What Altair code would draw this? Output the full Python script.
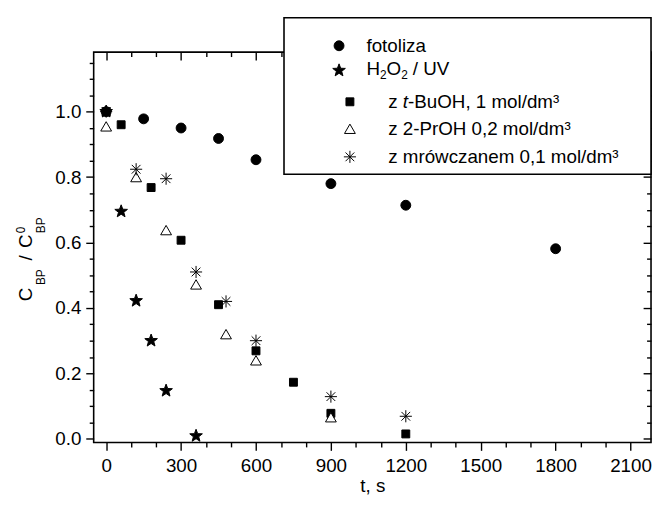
import math
import altair as alt
import pandas as pd

# ---------------- data ----------------
t_fotoliza = [0, 150, 300, 450, 600, 900, 1200, 1800]
c_fotoliza = [1.0, 0.978, 0.950, 0.918, 0.853, 0.780, 0.714, 0.581]

t_h2o2 = [0, 60, 120, 180, 240, 360]
c_h2o2 = [1.0, 0.695, 0.422, 0.30, 0.147, 0.009]

t_tbuoh = [0, 60, 180, 300, 450, 600, 750, 900, 1200]
c_tbuoh = [1.0, 0.96, 0.768, 0.607, 0.41, 0.269, 0.173, 0.078, 0.015]

t_proh = [0, 120, 240, 360, 480, 600, 900]
c_proh = [0.955, 0.80, 0.638, 0.472, 0.32, 0.24, 0.066]

t_mrow = [0, 120, 240, 360, 480, 600, 900, 1200]
c_mrow = [1.0, 0.824, 0.795, 0.51, 0.42, 0.30, 0.129, 0.069]

series = ["fotoliza", "H2O2 / UV", "z t-BuOH", "z 2-PrOH", "z mrowczan"]

x_major = [0, 300, 600, 900, 1200, 1500, 1800, 2100]
x_minor = [100, 200, 400, 500, 700, 800, 1000, 1100, 1300, 1400, 1600, 1700, 1900, 2000]
y_major = [0.0, 0.2, 0.4, 0.6, 0.8, 1.0]
y_minor = [0.05, 0.1, 0.15, 0.25, 0.3, 0.35, 0.45, 0.5, 0.55, 0.65, 0.7, 0.75,
           0.85, 0.9, 0.95, 1.05, 1.1, 1.15]

rows = []
for name, ts, cs in zip(series,
                        [t_fotoliza, t_h2o2, t_tbuoh, t_proh, t_mrow],
                        [c_fotoliza, c_h2o2, c_tbuoh, c_proh, c_mrow]):
    for t, c in zip(ts, cs):
        rows.append({"series": name, "t": t, "c": c})
df = pd.DataFrame(rows)
one = pd.DataFrame({"a": [0]})

# ---------------- styling ----------------
W, H = 564, 395
XDOM = [-50, 2182]
YDOM = [-0.011, 1.182]
FONT = "Liberation Sans"
FS = 19


def star_path(r_out=1.0, r_in=0.42):
    pts = []
    for k in range(10):
        ang = math.radians(-90 + 36 * k)
        r = r_out if k % 2 == 0 else r_in
        pts.append((r * math.cos(ang), r * math.sin(ang)))
    return "M" + "L".join(f"{x:.3f},{y:.3f}" for x, y in pts) + "Z"


STAR = star_path()
ASTER = "M0,-1L0,1M-1,0L1,0M-0.72,-0.72L0.72,0.72M-0.72,0.72L0.72,-0.72"

shapes = ["circle", STAR, "square", "triangle-up", ASTER]
fills = ["black", "black", "black", "white", "black"]
sizes = [100, 180, 64, 120, 150]

xs = alt.Scale(domain=XDOM, nice=False, zero=False)
ys = alt.Scale(domain=YDOM, nice=False, zero=False)

common_axis = dict(grid=False, domain=False, tickColor="black", tickWidth=1.4,
                   labelFont=FONT, labelFontSize=FS, labelColor="black",
                   titleFont=FONT, titleFontSize=FS, titleColor="black",
                   titleFontWeight="normal", labelFlush=False, labelOverlap=False)


def axis_layer(xaxis, yaxis):
    return alt.Chart(df).mark_point(opacity=0).encode(
        x=alt.X("t:Q", scale=xs, axis=xaxis),
        y=alt.Y("c:Q", scale=ys, axis=yaxis),
    )


main_axes = axis_layer(
    alt.Axis(orient="bottom", values=x_major, format="d", title="t, s", tickSize=8,
             labelPadding=6, titlePadding=2, **common_axis),
    alt.Axis(orient="left", values=y_major, format=".1f", title=None, tickSize=8,
             labelPadding=5, **common_axis),
)
minor_axes = axis_layer(
    alt.Axis(orient="bottom", values=x_minor, title=None, labels=False, tickSize=4.5, **common_axis),
    alt.Axis(orient="left", values=y_minor, title=None, labels=False, tickSize=4.5, **common_axis),
)
mirror_axes = axis_layer(
    alt.Axis(orient="top", values=x_major, title=None, labels=False, tickSize=8, offset=-8, **common_axis),
    alt.Axis(orient="right", values=y_major, title=None, labels=False, tickSize=8, offset=-8, **common_axis),
)
mirror_minor = axis_layer(
    alt.Axis(orient="top", values=x_minor, title=None, labels=False, tickSize=4.5, offset=-4.5, **common_axis),
    alt.Axis(orient="right", values=y_minor, title=None, labels=False, tickSize=4.5, offset=-4.5, **common_axis),
)

frame = alt.Chart(one).mark_rect(fill=None, stroke="black", strokeWidth=1.6).encode(
    x=alt.value(0), x2=alt.value(W), y=alt.value(0), y2=alt.value(H))

point_layers = []
for name, shp, fl, sz in zip(series, shapes, fills, sizes):
    point_layers.append(
        alt.Chart(df).transform_filter(alt.datum.series == name).mark_point(
            shape=shp, filled=True, fill=fl, stroke="black", strokeWidth=1,
            size=sz, opacity=1).encode(
            x=alt.X("t:Q", scale=xs, axis=None),
            y=alt.Y("c:Q", scale=ys, axis=None),
        )
    )

# ---------------- legend (drawn by hand) ----------------
legend_box = alt.Chart(one).mark_rect(fill="white", stroke="black", strokeWidth=1.6).encode(
    x=alt.value(192.6), x2=alt.value(W), y=alt.value(-34.7), y2=alt.value(123.6))

leg_sym_pos = [(248.3, -6.4), (248.3, 18.6), (259.3, 50.3), (259.3, 77.6), (259.3, 106.0)]
legend_syms = []
for (lx, ly), shp, fl, sz in zip(leg_sym_pos, shapes, fills, sizes):
    legend_syms.append(
        alt.Chart(one).mark_point(shape=shp, filled=True, fill=fl, stroke="black",
                                  strokeWidth=1, size=sz, opacity=1).encode(
            x=alt.value(lx), y=alt.value(ly)))


def txt(s, x, y, size=FS, style="normal", align="left", baseline="middle", angle=0):
    kw = dict(text=s, font=FONT, fontSize=size, fontStyle=style, color="black",
              align=align, baseline=baseline)
    if angle:
        kw["angle"] = angle
    return alt.Chart(one).mark_text(**kw).encode(x=alt.value(x), y=alt.value(y))


SUB = 12
legend_texts = [
    txt("fotoliza", 276, -6.4),
    txt("H", 276, 17),
    txt("2", 289.7, 23, size=SUB),
    txt("O", 296.4, 17),
    txt("2", 311.2, 23, size=SUB),
    txt("/ UV", 323.0, 17),
    txt("z", 298, 50.3),
    txt("t", 312.8, 50.3, style="italic"),
    txt("-BuOH, 1 mol/dm³", 318.1, 50.3),
    txt("z 2-PrOH 0,2 mol/dm³", 298, 77.6),
    txt("z mrówczanem 0,1 mol/dm³", 298, 106.0),
]

# ---------------- y-axis title (rotated pieces) ----------------
ytitle = [
    txt("C", -62.7, 245.3, angle=270, align="center", baseline="alphabetic"),
    txt("BP", -49.7, 227.8, size=SUB, angle=270, align="center", baseline="alphabetic"),
    txt("/", -62.7, 208.3, angle=270, align="center", baseline="alphabetic"),
    txt("C", -62.7, 191.3, angle=270, align="center", baseline="alphabetic"),
    txt("0", -69.7, 180.0, size=SUB, angle=270, align="center", baseline="alphabetic"),
    txt("BP", -49.7, 175.3, size=SUB, angle=270, align="center", baseline="alphabetic"),
]

chart = alt.layer(
    main_axes, minor_axes, mirror_axes, mirror_minor,
    frame, *point_layers, legend_box, *legend_syms, *legend_texts, *ytitle,
).resolve_axis(x="independent", y="independent").properties(
    width=W, height=H,
    autosize=alt.AutoSizeParams(type="none"),
    padding={"left": 86.7, "top": 41.7, "right": 2, "bottom": 55},
).configure_view(stroke=None)

chart.save("out.html", embed_options={"renderer": "svg", "actions": False})
